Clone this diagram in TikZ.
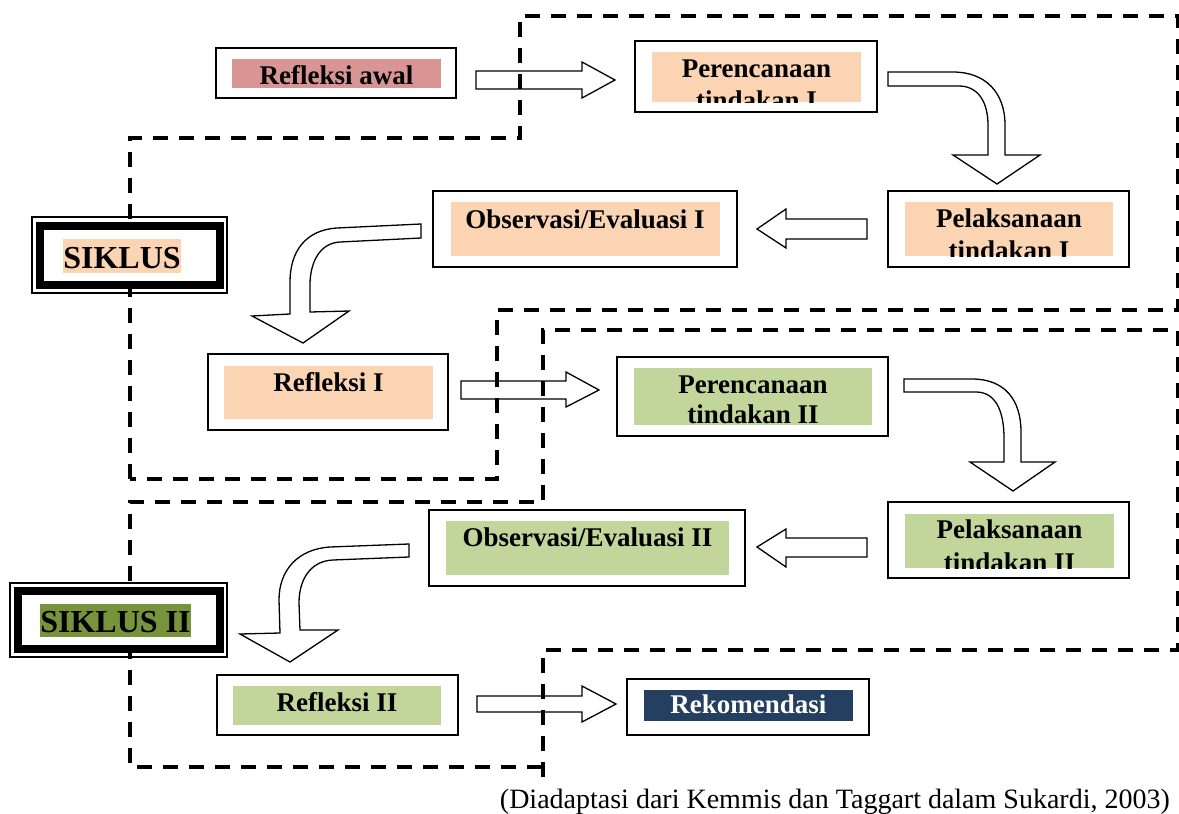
\documentclass[tikz,border=0pt]{standalone}
\usepackage{graphicx}
\usepackage{fontspec}
\setmainfont{Liberation Serif}
\definecolor{pinkc}{HTML}{D99594}
\definecolor{peach}{HTML}{FBD4B4}
\definecolor{lgreen}{HTML}{C2D69B}
\definecolor{olive}{HTML}{77933C}
\definecolor{navy}{HTML}{243F60}
\begin{document}
\begin{tikzpicture}[x=1pt,y=-1pt,
  obox/.style={draw=black, line width=1.8pt, fill=white, rectangle, inner sep=0pt},
  thinbox/.style={draw=black, line width=1.3pt, rectangle, inner sep=0pt},
  thickbox/.style={draw=black, fill=white, line width=8pt, rectangle, inner sep=0pt},
  blk/.style={draw=black, line width=1.3pt, fill=white, line join=miter},
  dline/.style={draw=black, line width=4pt, dash pattern=on 15pt off 11pt},
  lbl/.style={font=\fontsize{27}{30}\selectfont\bfseries, inner sep=0pt, anchor=base},
  siklbl/.style={font=\fontsize{32}{34}\selectfont\bfseries, inner sep=0pt, anchor=base},
]
\useasboundingbox (0,0) rectangle (1179,814);

% ---- block arrows ----
\draw[blk] (476,71) -- (582,71) -- (582,62) -- (615,80) -- (582,98) -- (582,89) -- (476,89) -- cycle;
\draw[blk] (461,381) -- (566,381) -- (566,372) -- (599,390) -- (566,407) -- (566,399) -- (461,399) -- cycle;
\draw[blk] (477,696) -- (582,696) -- (582,686) -- (616,704) -- (582,722) -- (582,712) -- (477,712) -- cycle;
\draw[blk] (867,219) -- (786,219) -- (786,209) -- (757,229) -- (786,248) -- (786,239) -- (867,239) -- cycle;
\draw[blk] (867,538) -- (786,538) -- (786,529) -- (757,547) -- (786,567) -- (786,557) -- (867,557) -- cycle;
\draw[blk] (888,72) -- (953,72) .. controls (985,72) and (1005,92) .. (1005,125) -- (1005,155) -- (1040,155) -- (997,184) -- (953,155) -- (988,155) -- (988,125) .. controls (988,102) and (978,86) .. (959,86) -- (888,86) -- cycle;
\draw[blk] (904,379) -- (972,379) .. controls (1005,379) and (1021,400) .. (1021,432) -- (1021,462) -- (1055,462) -- (1013,491) -- (970,462) -- (1004,462) -- (1004,438) .. controls (1004,410) and (995,392) .. (976,392) -- (904,392) -- cycle;
\draw[blk] (421,224) -- (337,228) .. controls (305,230) and (290,252) .. (290,282) -- (290,314) -- (252,316) -- (303,343) -- (349,311) -- (310,312) -- (310,285) .. controls (310,262) and (320,243) .. (340,242) -- (421,238) -- cycle;
\draw[blk] (409,544) -- (330,547) .. controls (298,549) and (279,570) .. (279,600) -- (280,633) -- (240,634) -- (290,662) -- (338,630) -- (300,630) -- (299,603) .. controls (299,580) and (310,561) .. (333,560) -- (409,557) -- cycle;

% ---- dashed cycle regions ----
\draw[dline] (130,479) -- (130,138) -- (520,138) -- (520,16) -- (1178,16) -- (1178,310) -- (497,310) -- (497,479) -- cycle;
\draw[dline] (543,777) -- (543,650) -- (1178,650) -- (1178,330) -- (543,330) -- (543,502) -- (130,502) -- (130,767) -- (543,767);

% ---- boxes ----
\node[obox, minimum width=240pt, minimum height=50pt] (refawal) at (336,73) {};
\fill[pinkc] (232,59) rectangle (441,88);
\node[lbl] (refawalt) at (336.5,84) {Refleksi awal};

\node[obox, minimum width=242pt, minimum height=71pt] (per1) at (756,76.5) {};
\begin{scope}
\clip (652,52) rectangle (861,102);
\fill[peach] (652,52) rectangle (861,102);
\node[lbl] (per1a) at (756.5,77) {Perencanaan};
\node[lbl] (per1b) at (756.5,109) {tindakan I};
\end{scope}

\node[obox, minimum width=241pt, minimum height=76pt] (pel1) at (1008.5,229) {};
\begin{scope}
\clip (905,202) rectangle (1113,256);
\fill[peach] (905,202) rectangle (1113,256);
\node[lbl] (pel1a) at (1009,227) {Pelaksanaan};
\node[lbl] (pel1b) at (1009,259) {tindakan I};
\end{scope}

\node[obox, minimum width=304pt, minimum height=76pt] (obs1) at (585,229) {};
\fill[peach] (451,202) rectangle (720,256);
\node[lbl] (obs1t) at (585,228) {Observasi/Evaluasi I};

\node[thinbox, minimum width=195pt, minimum height=76pt] (sik1o) at (129.5,255) {};
\node[thickbox, minimum width=180pt, minimum height=59pt] (sik1) at (130,255.5) {};
\fill[peach] (63,239) rectangle (181,273);
\node[siklbl] (sik1t) at (122,268) {SIKLUS};

\node[obox, minimum width=240pt, minimum height=76pt] (ref1) at (328,392) {};
\fill[peach] (224,366) rectangle (433,419);
\node[lbl] (ref1t) at (328.5,391) {Refleksi I};

\node[obox, minimum width=271pt, minimum height=79pt] (per2) at (752.5,396.5) {};
\begin{scope}
\clip (634,368) rectangle (872,425);
\fill[lgreen] (634,368) rectangle (872,425);
\node[lbl] (per2a) at (753,393) {Perencanaan};
\node[lbl] (per2b) at (753,423) {tindakan II};
\end{scope}

\node[obox, minimum width=241pt, minimum height=76pt] (pel2) at (1008.5,540) {};
\begin{scope}
\clip (905,514) rectangle (1114,568);
\fill[lgreen] (905,514) rectangle (1114,568);
\node[lbl] (pel2a) at (1009.5,538) {Pelaksanaan};
\node[lbl] (pel2b) at (1009.5,571) {tindakan II};
\end{scope}

\node[obox, minimum width=316pt, minimum height=76pt] (obs2) at (587,548) {};
\fill[lgreen] (446,521) rectangle (729,575);
\node[lbl] (obs2t) at (587.5,546) {Observasi/Evaluasi II};

\node[thinbox, minimum width=217pt, minimum height=74pt] (sik2o) at (118.5,620) {};
\node[thickbox, minimum width=202pt, minimum height=58pt] (sik2) at (119,620) {};
\fill[olive] (40,604) rectangle (191,637);
\node[siklbl] (sik2t) at (115.5,632) {SIKLUS II};

\node[obox, minimum width=241pt, minimum height=60pt] (ref2) at (337.5,705) {};
\fill[lgreen] (233,686) rectangle (441,725);
\node[lbl] (ref2t) at (337,711) {Refleksi II};

\node[obox, minimum width=242pt, minimum height=56pt] (rek) at (748,707) {};
\fill[navy] (644,690) rectangle (853,721);
\node[lbl, text=white] (rekt) at (748.5,713) {Rekomendasi};

\node[anchor=base east, inner sep=0pt, font=\fontsize{28}{30}\selectfont] (cap) at (1170,808) {(Diadaptasi dari Kemmis dan Taggart dalam Sukardi, 2003)};
\end{tikzpicture}
\end{document}
